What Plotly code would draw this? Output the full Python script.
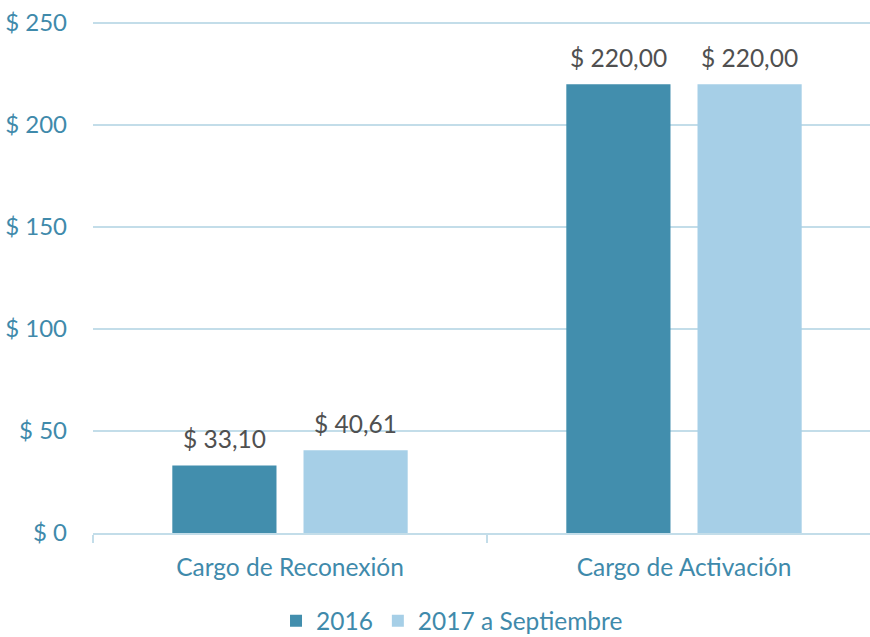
import plotly.graph_objects as go

categories = ["Cargo de Reconexión", "Cargo de Activación"]
series_names = ["2016", "2017 a Septiembre"]
values_2016 = [33.10, 220.00]
values_2017 = [40.61, 220.00]
y_ticks = [0, 50, 100, 150, 200, 250]
colors = ["#428EAD", "#A6CFE7"]

FONT = "Lato, 'Open Sans', sans-serif"
AXIS_COLOR = "#3F8AAB"
LABEL_COLOR = "#505050"
GRID = "#C3DDE9"

fig = go.Figure()
for name, vals, col in zip(series_names, [values_2016, values_2017], colors):
    fig.add_trace(go.Bar(
        x=categories, y=vals, name=name, marker_color=col,
        marker_line_width=0,
    ))

# value labels above the bars
for shift, vals in zip([-65.5, 65.5], [values_2016, values_2017]):
    for cat, v in zip(categories, vals):
        fig.add_annotation(
            x=cat, y=v, xref="x", yref="y", xshift=shift, yshift=10,
            text="$ " + f"{v:.2f}".replace(".", ","), showarrow=False,
            yanchor="bottom", font=dict(size=24.5, color=LABEL_COLOR, family=FONT),
        )

fig.update_layout(
    width=881, height=637,
    margin=dict(l=93, r=0, t=19, b=104, autoexpand=False),
    plot_bgcolor="white", paper_bgcolor="white",
    barmode="group", bargap=0.334, bargroupgap=0.206,
    font=dict(family=FONT, size=24, color=AXIS_COLOR),
    showlegend=True,
    legend=dict(orientation="h", x=0.4556, xanchor="center", y=-0.171, yanchor="middle",
                font=dict(size=24.5, color=AXIS_COLOR), itemwidth=30, traceorder="normal"),
)
fig.update_yaxes(range=[0, 252], tickmode="array", tickvals=y_ticks,
                 ticktext=[f"$ {t}" for t in y_ticks],
                 showgrid=True,
                 gridcolor=GRID, gridwidth=1.5, zeroline=False, showline=False,
                 ticks="", ticklabelstandoff=25, automargin=False,
                 tickfont=dict(size=24, color=AXIS_COLOR))
fig.update_xaxes(showline=True, linecolor=GRID, linewidth=1.5,
                 ticks="outside", tickson="boundaries", ticklen=8, tickcolor=GRID,
                 tickwidth=1.5, tickfont=dict(size=24.5, color=AXIS_COLOR),
                 ticklabelstandoff=12, automargin=False)

fig.write_html("out.html", config={"displayModeBar": False},
               post_script="document.body.style.margin='0';document.body.style.overflow='hidden';")
